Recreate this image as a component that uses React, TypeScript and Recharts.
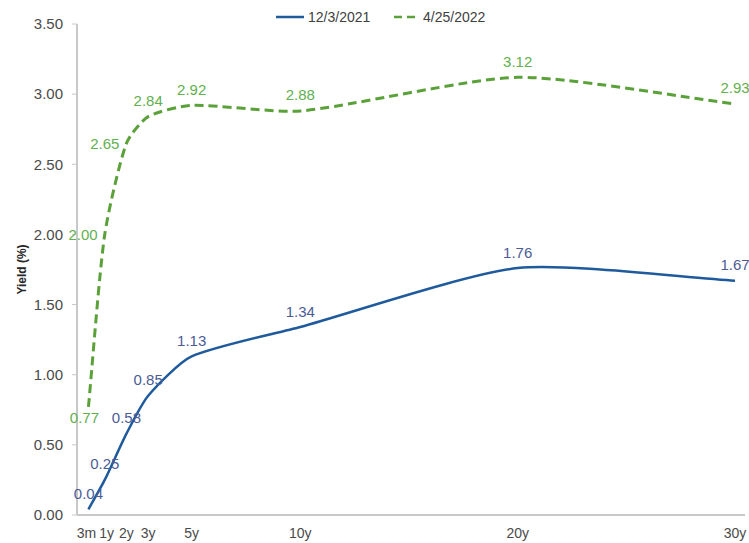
import React from 'react';
import { LineChart, Line, XAxis, YAxis, Legend, LabelList } from 'recharts';

// Treasury maturities (in years) and their axis labels
const maturities = [0.25, 1, 2, 3, 5, 10, 20, 30];
const maturityLabels = ['3m', '1y', '2y', '3y', '5y', '10y', '20y', '30y'];

// Yield curves (%)
const yieldsDec2021 = [0.04, 0.25, 0.58, 0.85, 1.13, 1.34, 1.76, 1.67];
const yieldsApr2022 = [0.77, 2.0, 2.65, 2.84, 2.92, 2.88, 3.12, 2.93];

const yTicks = [0, 0.5, 1, 1.5, 2, 2.5, 3, 3.5];

// Where each value label sits relative to its point
const decLabelSide = ['top', 'top', 'top', 'top', 'top', 'top', 'top', 'top'];
const aprLabelSide = ['bottom', 'left', 'left', 'top', 'top', 'top', 'top', 'top'];

const FONT = "'Liberation Sans', Arial, sans-serif";
const BLUE = '#1F5A9C';
const GREEN = '#5BA13A';
const BLUE_TEXT = '#4B5C96';
const GREEN_TEXT = '#62B04F';
const AXIS_TEXT = '#4A4A4A';

const data = maturities.map((m, i) => ({
  years: m,
  dec: yieldsDec2021[i],
  apr: yieldsApr2022[i],
}));

// Smoothed line: cubic Bezier through each point, with tangent handles
// scaled to the length of each segment so long spans stay nearly straight
const SMOOTH = 0.22;
const smoothCurve = (context: any) => {
  let pts: [number, number][] = [];
  const tangent = (i: number): [number, number] => {
    const a = pts[i - 1] ?? pts[i];
    const b = pts[i + 1] ?? pts[i];
    const dx = b[0] - a[0];
    const dy = b[1] - a[1];
    const len = Math.hypot(dx, dy) || 1;
    return [dx / len, dy / len];
  };
  return {
    areaStart() {},
    areaEnd() {},
    lineStart() {
      pts = [];
    },
    lineEnd() {
      if (!pts.length) return;
      context.moveTo(pts[0][0], pts[0][1]);
      for (let i = 0; i < pts.length - 1; i++) {
        const p1 = pts[i];
        const p2 = pts[i + 1];
        const d = Math.hypot(p2[0] - p1[0], p2[1] - p1[1]) * SMOOTH;
        const t1 = tangent(i);
        const t2 = tangent(i + 1);
        context.bezierCurveTo(
          p1[0] + t1[0] * d,
          p1[1] + t1[1] * d,
          p2[0] - t2[0] * d,
          p2[1] - t2[1] * d,
          p2[0],
          p2[1]
        );
      }
    },
    point(x: number, y: number) {
      pts.push([+x, +y]);
    },
  };
};

// Small horizontal nudges so the crowded short-maturity labels don't collide
const tickNudge: Record<string, number> = { '3m': -2, '1y': 2 };

const XTick = (props: any) => {
  const { x, y, payload } = props;
  const i = maturities.indexOf(payload.value);
  const label = i >= 0 ? maturityLabels[i] : '';
  return (
    <text
      x={x + (tickNudge[label] ?? 0)}
      y={y}
      dy="0.71em"
      textAnchor="middle"
      fill={AXIS_TEXT}
      fontSize={14}
      fontFamily={FONT}
    >
      {label}
    </text>
  );
};

const makeValueLabel = (sides: string[], color: string) => (props: any) => {
  const { x, y, value, index } = props;
  const side = sides[index] ?? 'top';
  let tx = x;
  let ty = y - 16;
  let anchor: 'start' | 'middle' | 'end' = 'middle';
  if (side === 'left') {
    tx = x - 7;
    ty = y;
    anchor = 'end';
  } else if (side === 'bottom') {
    tx = x - 4;
    ty = y + 11;
  }
  return (
    <text
      x={tx}
      y={ty}
      textAnchor={anchor}
      dominantBaseline="central"
      fill={color}
      fontSize={15}
      fontFamily={FONT}
    >
      {Number(value).toFixed(2)}
    </text>
  );
};

const LegendContent = () => (
  <svg width={230} height={20}>
    <line x1={2} y1={10} x2={30} y2={10} stroke={BLUE} strokeWidth={2.5} />
    <text x={34} y={10} dominantBaseline="central" fontSize={14} fontFamily={FONT} fill="#404040">
      12/3/2021
    </text>
    <line x1={120} y1={10} x2={146} y2={10} stroke={GREEN} strokeWidth={2.5} strokeDasharray="8 5" />
    <text x={149} y={10} dominantBaseline="central" fontSize={14} fontFamily={FONT} fill="#404040">
      4/25/2022
    </text>
  </svg>
);

const YTitle = (props: any) => {
  const { viewBox } = props;
  const cx = viewBox.x + 22;
  const cy = viewBox.y + viewBox.height / 2;
  return (
    <text
      x={cx}
      y={cy}
      transform={`rotate(-90, ${cx}, ${cy})`}
      textAnchor="middle"
      dominantBaseline="central"
      fontSize={12}
      fontWeight="bold"
      fontFamily={FONT}
      fill="#262626"
    >
      Yield (%)
    </text>
  );
};

export default function App() {
  return (
    <div style={{ position: 'absolute', left: 0, top: 0, background: '#fff' }}>
      <LineChart
        width={749}
        height={543}
        data={data}
        margin={{ top: 24, right: 4, bottom: 0, left: 0 }}
      >
        <XAxis
          dataKey="years"
          type="number"
          domain={[0, 30]}
          ticks={maturities}
          interval={0}
          padding={{ left: 6, right: 10 }}
          height={28}
          axisLine={{ stroke: '#C8C8C8', strokeWidth: 2 }}
          tickLine={false}
          tickMargin={7}
          tick={<XTick />}
        />
        <YAxis
          type="number"
          domain={[0, 3.5]}
          ticks={yTicks}
          tickFormatter={(v: number) => v.toFixed(2)}
          width={77}
          axisLine={{ stroke: '#C8C8C8', strokeWidth: 2 }}
          tickLine={{ stroke: '#C8C8C8' }}
          tickSize={5}
          tickMargin={9}
          tick={{ fill: AXIS_TEXT, fontSize: 15, fontFamily: FONT }}
          label={<YTitle />}
        />
        <Legend
          verticalAlign="middle"
          align="center"
          layout="horizontal"
          wrapperStyle={{ top: 7, left: 274, width: 240 }}
          content={<LegendContent />}
        />
        <Line
          dataKey="dec"
          name="12/3/2021"
          type={smoothCurve as any}
          stroke={BLUE}
          strokeWidth={2.5}
          dot={false}
          activeDot={false}
          isAnimationActive={false}
        >
          <LabelList dataKey="dec" content={makeValueLabel(decLabelSide, BLUE_TEXT)} />
        </Line>
        <Line
          dataKey="apr"
          name="4/25/2022"
          type={smoothCurve as any}
          stroke={GREEN}
          strokeWidth={3}
          strokeDasharray="9 5"
          dot={false}
          activeDot={false}
          isAnimationActive={false}
        >
          <LabelList dataKey="apr" content={makeValueLabel(aprLabelSide, GREEN_TEXT)} />
        </Line>
      </LineChart>
    </div>
  );
}
